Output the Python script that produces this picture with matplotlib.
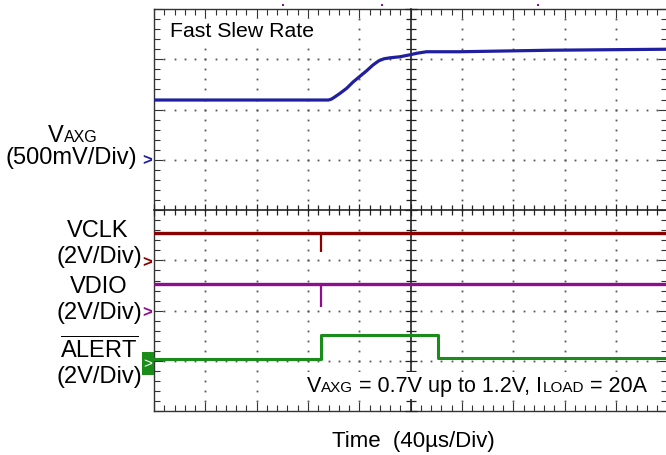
import matplotlib
matplotlib.use('Agg')
import matplotlib.pyplot as plt
import numpy as np
from matplotlib.ticker import MultipleLocator
from matplotlib.patches import Rectangle

plt.rcParams['font.family'] = 'Liberation Sans'
plt.rcParams['mathtext.fontset'] = 'custom'
plt.rcParams['mathtext.rm'] = 'Liberation Sans'

# time in divisions (40us/div), levels in divisions from the bottom of the screen
vaxg_t = [0, 3.40, 3.46, 3.52, 3.62, 3.75, 3.88, 4.01, 4.14, 4.27, 4.38, 4.48, 4.60, 4.79, 4.99, 5.12, 5.31, 5.96, 7.71, 10]
vaxg_v = [6.19, 6.19, 6.21, 6.25, 6.32, 6.42, 6.55, 6.66, 6.77, 6.89, 6.97, 7.01, 7.03, 7.05, 7.09, 7.12, 7.15, 7.15, 7.18, 7.20]

vclk_level = 3.54
vclk_glitch_t = 3.25
vclk_glitch_min = 3.17

vdio_level = 2.53
vdio_glitch_t = 3.25
vdio_glitch_min = 2.07

alert_t = [0, 3.25, 3.25, 5.54, 5.54, 10]
alert_v = [1.04, 1.04, 1.51, 1.51, 1.05, 1.05]

# channel reference markers
ref_levels = [5.0, 2.98, 1.98, 0.95]
colors = ['#1f1fa0', '#8b0000', '#8e0f8e', '#1a8c1a']

# trigger marks above the screen
trig_t = [2.51, 4.44, 7.48]

W, H = 666, 456
fig = plt.figure(figsize=(W / 100, H / 100), dpi=100)
rect = [154 / W, (H - 412.3) / H, 513.3 / W, 402.3 / H]

ax = fig.add_axes(rect)
ax.set_xlim(0, 10)
ax.set_ylim(0, 8)
for s in ax.spines.values():
    s.set_color('#333333')
    s.set_linewidth(1.0)
ax.xaxis.set_major_locator(MultipleLocator(1))
ax.xaxis.set_minor_locator(MultipleLocator(0.2))
ax.yaxis.set_major_locator(MultipleLocator(1))
ax.yaxis.set_minor_locator(MultipleLocator(0.2))
ax.tick_params(which='both', direction='in', top=True, right=True,
               labelbottom=False, labelleft=False, color='#333333', width=0.8)
ax.tick_params(which='major', length=6.5)
ax.tick_params(which='minor', length=4.3)

# dotted graticule
steps = np.arange(1, 40) * 0.2
for gx in [1, 2, 3, 4, 6, 7, 8, 9]:
    ax.plot(np.full_like(steps, gx), steps, ls='none', marker='s', ms=1.3, mew=0, color='#555555')
steps = np.arange(1, 50) * 0.2
for gy in [1, 2, 3, 5, 6, 7]:
    ax.plot(steps, np.full_like(steps, gy), ls='none', marker='s', ms=1.3, mew=0, color='#555555')

# centre crosshair with its own ticks
ax2 = fig.add_axes(rect)
ax2.set_xlim(0, 10)
ax2.set_ylim(0, 8)
ax2.patch.set_visible(False)
ax2.spines['top'].set_visible(False)
ax2.spines['right'].set_visible(False)
ax2.spines['left'].set_position(('data', 5))
ax2.spines['bottom'].set_position(('data', 4))
for s in ['left', 'bottom']:
    ax2.spines[s].set_color('#222222')
    ax2.spines[s].set_linewidth(1.2)
ax2.xaxis.set_major_locator(MultipleLocator(1))
ax2.xaxis.set_minor_locator(MultipleLocator(0.2))
ax2.yaxis.set_major_locator(MultipleLocator(1))
ax2.yaxis.set_minor_locator(MultipleLocator(0.2))
ax2.tick_params(which='both', direction='inout', labelbottom=False, labelleft=False,
                color='#222222', width=0.9)
ax2.tick_params(which='major', length=9)
ax2.tick_params(which='minor', length=7)

# traces
ax2.plot(vaxg_t, vaxg_v, color=colors[0], lw=2.3, zorder=3, solid_joinstyle='round')
ax2.plot([0, 10], [vclk_level, vclk_level], color=colors[1], lw=2.4, zorder=3)
ax2.vlines(vclk_glitch_t, vclk_glitch_min, vclk_level, color=colors[1], lw=1.6, zorder=3)
ax2.plot([0, 10], [vdio_level, vdio_level], color=colors[2], lw=2.4, zorder=3)
ax2.vlines(vdio_glitch_t, vdio_glitch_min, vdio_level, color=colors[2], lw=1.6, zorder=3)
ax2.plot(alert_t, alert_v, color=colors[3], lw=2.2, zorder=3)

# white area behind the condition note
ax2.add_patch(Rectangle((2.94, 0.24), 6.88, 0.54, fc='white', ec='none', zorder=2.8))

# channel reference markers left of the screen
for lvl, c in zip(ref_levels[:3], colors[:3]):
    ax2.text(-0.14, lvl, '>', color=c, fontsize=12, fontweight='bold', ha='center', va='center',
             clip_on=False)
ax2.add_patch(Rectangle((-0.235, ref_levels[3] - 0.22), 0.235, 0.44, fc=colors[3], ec='none',
                        clip_on=False, zorder=3))
ax2.text(-0.12, ref_levels[3], '>', color='white', fontsize=11, ha='center', va='center',
         clip_on=False, zorder=4)

ax2.plot(trig_t, [8.08] * len(trig_t), ls='none', marker='s', ms=1.6, mew=0, color='#8e0f8e',
         clip_on=False)

renderer = fig.canvas.get_renderer()


def run(pieces, x, y, ha='left'):
    texts = [fig.text(0, 0, s, fontsize=size, va='baseline', ha='left') for s, size in pieces]
    widths = [t.get_window_extent(renderer).width for t in texts]
    x0 = x - sum(widths) / 2 if ha == 'center' else x
    for t, w in zip(texts, widths):
        t.set_position((x0 / W, 1 - y / H))
        x0 += w


fig.text(170 / W, 1 - 36.7 / H, 'Fast Slew Rate', fontsize=15.3, va='baseline',
         bbox=dict(fc='white', ec='none', pad=1.5))

run([('V', 17), ('AXG', 11.5)], 73, 141.7, ha='center')
run([('(500mV/Div)', 17)], 71, 164, ha='center')
run([('VCLK', 17)], 98, 237, ha='center')
run([('(2V/Div)', 17)], 99, 262.5, ha='center')
run([('VDIO', 17)], 99, 293, ha='center')
run([('(2V/Div)', 17)], 99, 319.5, ha='center')
run([(r'$\overline{\mathrm{ALERT}}$', 17)], 99, 358, ha='center')
run([('(2V/Div)', 17)], 99, 383.5, ha='center')

run([('V', 15.5), ('AXG', 11), (' = 0.7V up to 1.2V, I', 15.5), ('LOAD', 11), (' = 20A', 15.5)],
    307, 392)
run([('Time  (40\u00b5s/Div)', 16)], 413.5, 447, ha='center')

fig.savefig('out.png', dpi=100)
